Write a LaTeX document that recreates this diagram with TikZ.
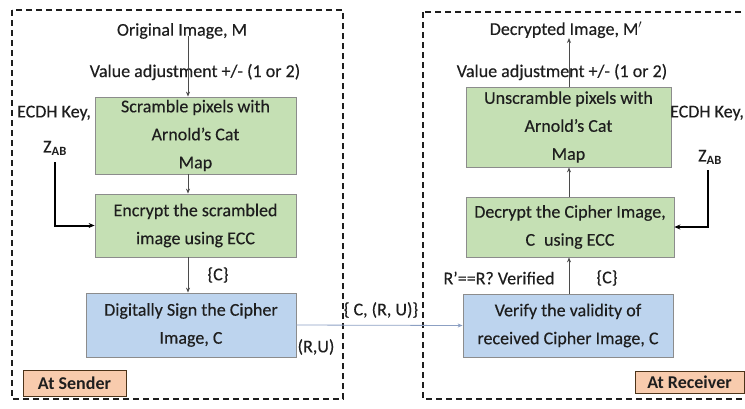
\documentclass[tikz,border=0pt]{standalone}
\usepackage{fontspec}
\setmainfont{Carlito}[UprightFeatures={FakeBold=0.3}]
\usetikzlibrary{arrows.meta,calc}

\definecolor{ink}{RGB}{30,30,30}
\definecolor{stepgreen}{RGB}{197,224,180}
\definecolor{stepblue}{RGB}{189,212,238}
\definecolor{tagorange}{RGB}{248,203,173}
\definecolor{wire}{RGB}{140,160,195}

\begin{document}
\begin{tikzpicture}[x=1pt, y=-1pt, font=\fontsize{18}{28}\selectfont, text=ink,
  stage/.style={draw=black!45, line width=0.8pt, align=center, inner sep=0pt},
  enc/.style={stage, fill=stepgreen},
  sig/.style={stage, fill=stepblue},
  tag/.style={draw=black!60!brown, line width=0.8pt, fill=tagorange, inner sep=0pt, font=\fontsize{18}{20}\selectfont\bfseries},
  lbl/.style={inner sep=0pt},
  side/.style={dash pattern=on 6pt off 4pt, line width=1.2pt, draw=ink},
  flow/.style={-{Stealth[length=5pt,width=4pt]}, draw=ink!80, line width=0.8pt},
  key/.style={-{Stealth[length=6pt,width=5pt]}, draw=black, line width=2pt}]
\useasboundingbox (0,0) rectangle (745,408);
\clip (0,0) rectangle (745,408);

% sender and receiver frames
\draw[side] (12,10) rectangle (343,399);
\draw[side] (423,12) rectangle (760,399);

% sender side
\node[enc, minimum width=201pt, minimum height=77pt] at (195.5,135.5)(scramble) {Scramble pixels with\\Arnold's Cat\\Map};
\node[enc, minimum width=201pt, minimum height=63pt] at (195.5,225.5)(encrypt) {Encrypt the scrambled\\image using ECC};
\node[sig, minimum width=210pt, minimum height=64pt] at (191,325)(sign) {Digitally Sign the Cipher\\Image, C};
\node[tag, minimum width=103pt, minimum height=26pt] at (74.5,383)(sender) {At Sender};

\node[lbl] at (182,31)(orig) {Original Image, M};
\node[lbl] at (195,72)(adjA) {Value adjustment +/- (1 or 2)};
\node[lbl] at (54,113)(keyA) {ECDH Key,};
\node[lbl] at (55,148)(zA) {Z\textsubscript{\bfseries AB}};
\node[lbl] at (218,275)(cA) {\{C\}};
\node[lbl] at (316,347)(ru) {(R,U)};
\coordinate (src) at (188,36);
\coordinate (keyLa) at (55,162);

\draw[flow] (src) -- (src |- scramble.north);
\draw[flow] (src |- scramble.south) -- (src |- encrypt.north);
\draw[flow] (src |- encrypt.south) -- (src |- sign.north);
\draw[key] (keyLa) |- (encrypt.west);

% channel
\node[lbl] at (381,310)(msg) {\{ C, (R, U)\}};

% receiver side
\node[enc, minimum width=205pt, minimum height=80pt] at (568.5,127)(unscramble) {Unscramble pixels with\\Arnold's Cat\\Map};
\node[enc, minimum width=208pt, minimum height=60pt] at (570,227)(decrypt) {Decrypt the Cipher Image,\\C\enspace using ECC};
\node[sig, minimum width=210pt, minimum height=63pt] at (568,325.5)(verify) {Verify the validity of\\received Cipher Image, C};
\node[tag, minimum width=109pt, minimum height=22pt] at (689.5,382.5)(receiver) {At Receiver};

\node[lbl] at (566,30)(dec) {Decrypted Image, M$'$};
\node[lbl] at (562,72)(adjB) {Value adjustment +/- (1 or 2)};
\node[lbl] at (707,113)(keyB) {ECDH Key,};
\node[lbl] at (710,157)(zB) {Z\textsubscript{\bfseries AB}};
\node[lbl] at (499,278)(chk) {R’==R? Verified};
\node[lbl] at (607,278)(cB) {\{C\}};
\coordinate (dst) at (569,38);
\coordinate (keyRa) at (708,170);

\draw[flow] (dst |- verify.north) -- (dst |- decrypt.south);
\draw[flow] (dst |- decrypt.north) -- (dst |- unscramble.south);
\draw[flow] (dst |- unscramble.north) -- (dst);
\draw[key] (keyRa) |- (decrypt.east);

\draw[flow, draw=wire] (sign.east) -- (verify.west);

\end{tikzpicture}
\end{document}
